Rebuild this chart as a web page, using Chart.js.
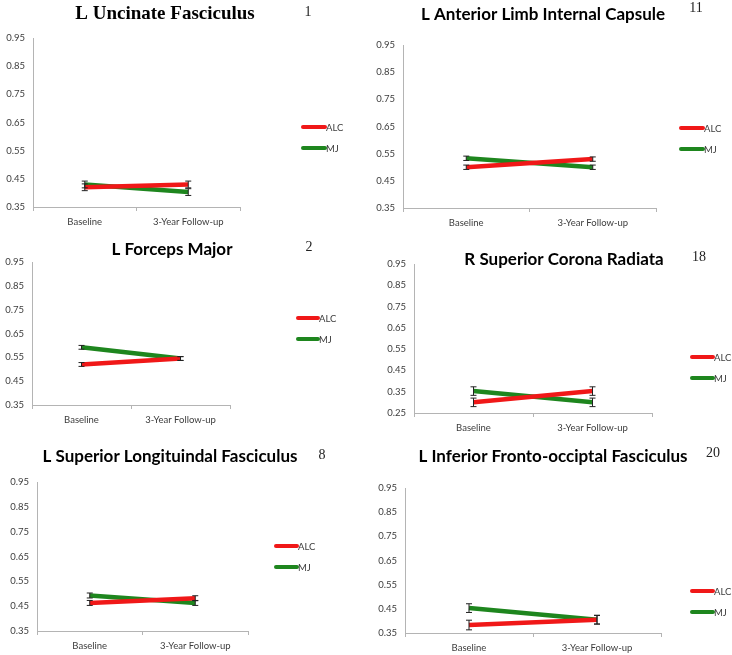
<!DOCTYPE html>
<html>
<head>
<meta charset="utf-8">
<script src="https://cdn.jsdelivr.net/npm/chart.js@4/dist/chart.umd.min.js"></script>
<style>
  body { margin: 0; background: #fff; }
  #page { position: relative; width: 732px; height: 655px; }
  .panel { position: absolute; left: 0; top: 0; }
</style>
</head>
<body>
<div id="page"></div>
<script>
// data
var timepoints = ['Baseline', '3-Year Follow-up'];
var tractNames = ['L Uncinate Fasciculus', 'L Anterior Limb Internal Capsule', 'L Forceps Major',
                  'R Superior Corona Radiata', 'L Superior Longituindal Fasciculus', 'L Inferior Fronto-occiptal Fasciculus'];
var tractNumbers = ['1', '11', '2', '18', '8', '20'];
var groupNames = ['ALC', 'MJ'];
var alcMeans = [[0.42, 0.43], [0.50, 0.53], [0.52, 0.545], [0.30, 0.353], [0.463, 0.482], [0.383, 0.405]];
var alcErrors = [[0.012, 0.012], [0.008, 0.008], [0.008, 0.008], [0.02, 0.02], [0.01, 0.01], [0.02, 0.018]];
var mjMeans = [[0.43, 0.403], [0.533, 0.50], [0.592, 0.545], [0.353, 0.30], [0.493, 0.463], [0.453, 0.405]];
var mjErrors = [[0.012, 0.012], [0.008, 0.008], [0.008, 0.008], [0.02, 0.02], [0.01, 0.01], [0.018, 0.018]];
var yMins = [0.35, 0.35, 0.35, 0.25, 0.35, 0.35];
var yMax = 0.95;

var RED = '#f01818';
var GREEN = '#1e861e';
var AXIS = '#b4b4b4';
var LABEL = '#3c3c3c';
var SANS = 'Lato, "Liberation Sans", sans-serif';
var SERIF = '"Liberation Serif", "DejaVu Serif", serif';

var PAGE_W = 732, PAGE_H = 655;

// page layout (absolute px): plot area [left, right, top, bottom], title/number centres, legend line [x1, x2, y]
var layout = [
  {plot: [33, 240, 38, 207], title: [165, 14], num: [308, 12], leg: [303, 325, 127], serifTitle: true},
  {plot: [403, 656, 45, 208], title: [543, 15], num: [696, 8], leg: [681, 703, 128]},
  {plot: [32, 230, 262, 405], title: [172, 250], num: [309, 247], leg: [298, 318, 318]},
  {plot: [414, 652, 264, 413], title: [564, 260], num: [699, 257], leg: [692, 713, 357]},
  {plot: [37, 248, 482, 631], title: [170, 457], num: [322, 455], leg: [276, 297, 546]},
  {plot: [405, 661, 488, 633], title: [553, 457], num: [713, 453], leg: [692, 713, 591]}
];

var Y_AXIS_W = 30;
var X_AXIS_H = 25;

function createPanel(i) {
  var L = layout[i];

  var div = document.createElement('div');
  div.className = 'panel';
  var canvas = document.createElement('canvas');
  canvas.width = PAGE_W;
  canvas.height = PAGE_H;
  div.appendChild(canvas);
  document.getElementById('page').appendChild(div);

  var errors = [alcErrors[i], mjErrors[i]];

  var errorBars = {
    id: 'errorBars',
    afterDatasetsDraw: function(chart) {
      var ctx = chart.ctx;
      var yScale = chart.scales.y;
      ctx.save();
      ctx.strokeStyle = '#222';
      ctx.lineWidth = 1;
      chart.data.datasets.forEach(function(ds, d) {
        var meta = chart.getDatasetMeta(d);
        meta.data.forEach(function(pt, k) {
          var top = yScale.getPixelForValue(ds.data[k] + errors[d][k]);
          var bot = yScale.getPixelForValue(ds.data[k] - errors[d][k]);
          ctx.beginPath();
          ctx.moveTo(pt.x, top); ctx.lineTo(pt.x, bot);
          ctx.moveTo(pt.x - 3, top); ctx.lineTo(pt.x + 3, top);
          ctx.moveTo(pt.x - 3, bot); ctx.lineTo(pt.x + 3, bot);
          ctx.stroke();
        });
      });
      ctx.restore();
    }
  };

  var decorations = {
    id: 'decorations',
    afterDraw: function(chart) {
      var ctx = chart.ctx;
      ctx.save();
      ctx.textAlign = 'center';
      ctx.textBaseline = 'middle';
      ctx.fillStyle = '#000';
      ctx.font = L.serifTitle ? 'bold 19px ' + SERIF : 'bold 17px ' + SANS;
      ctx.fillText(tractNames[i], L.title[0], L.title[1]);
      ctx.font = '14px ' + SERIF;
      ctx.fillStyle = '#222';
      ctx.fillText(tractNumbers[i], L.num[0], L.num[1]);

      // legend
      var colors = [RED, GREEN];
      ctx.textAlign = 'left';
      ctx.font = '9.5px ' + SANS;
      for (var g = 0; g < groupNames.length; g++) {
        var y = L.leg[2] + g * 21;
        ctx.strokeStyle = colors[g];
        ctx.lineWidth = 4;
        ctx.lineCap = 'round';
        ctx.beginPath();
        ctx.moveTo(L.leg[0], y);
        ctx.lineTo(L.leg[1], y);
        ctx.stroke();
        ctx.fillStyle = LABEL;
        ctx.fillText(groupNames[g], L.leg[1] + 1, y + 1);
      }
      ctx.restore();
    }
  };

  new Chart(canvas, {
    type: 'line',
    data: {
      labels: timepoints,
      datasets: [{
        label: groupNames[0],
        data: alcMeans[i],
        borderColor: RED,
        backgroundColor: RED,
        borderWidth: 4.5,
        pointRadius: 0
      }, {
        label: groupNames[1],
        data: mjMeans[i],
        borderColor: GREEN,
        backgroundColor: GREEN,
        borderWidth: 4.5,
        pointRadius: 0
      }]
    },
    options: {
      responsive: false,
      animation: false,
      events: [],
      layout: {
        padding: {
          left: L.plot[0] - Y_AXIS_W,
          right: PAGE_W - L.plot[1],
          top: L.plot[2],
          bottom: PAGE_H - L.plot[3] - X_AXIS_H
        }
      },
      plugins: {
        legend: { display: false },
        title: { display: false },
        tooltip: { enabled: false }
      },
      scales: {
        x: {
          offset: true,
          grid: { display: true, offset: true, drawOnChartArea: false, drawTicks: true, tickLength: 4, color: AXIS },
          border: { display: true, color: AXIS, width: 1 },
          ticks: { color: LABEL, padding: 5, font: { family: SANS, size: 9.5 }, maxRotation: 0 },
          afterFit: function(scale) { scale.height = X_AXIS_H; }
        },
        y: {
          min: yMins[i],
          max: yMax,
          grid: { display: false, drawTicks: false },
          border: { display: true, color: AXIS, width: 1 },
          ticks: {
            stepSize: 0.1,
            color: LABEL,
            padding: 8,
            font: { family: SANS, size: 9.5 },
            callback: function(v) { return v.toFixed(2); }
          },
          afterFit: function(scale) { scale.width = Y_AXIS_W; }
        }
      }
    },
    plugins: [errorBars, decorations]
  });
}

for (var p = 0; p < layout.length; p++) {
  createPanel(p);
}
</script>
</body>
</html>
